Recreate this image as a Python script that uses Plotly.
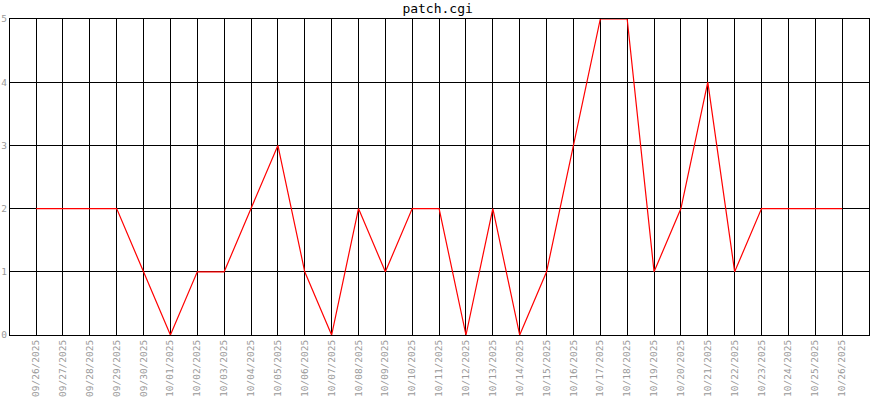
import plotly.graph_objects as go

dates = [
    "09/26/2025", "09/27/2025", "09/28/2025", "09/29/2025", "09/30/2025",
    "10/01/2025", "10/02/2025", "10/03/2025", "10/04/2025", "10/05/2025",
    "10/06/2025", "10/07/2025", "10/08/2025", "10/09/2025", "10/10/2025",
    "10/11/2025", "10/12/2025", "10/13/2025", "10/14/2025", "10/15/2025",
    "10/16/2025", "10/17/2025", "10/18/2025", "10/19/2025", "10/20/2025",
    "10/21/2025", "10/22/2025", "10/23/2025", "10/24/2025", "10/25/2025",
    "10/26/2025",
]
counts = [2, 2, 2, 2, 1, 0, 1, 1, 2, 3, 1, 0, 2, 1, 2, 2, 0, 2, 0, 1,
          3, 5, 5, 1, 2, 4, 1, 2, 2, 2, 2]
y_ticks = [0, 1, 2, 3, 4, 5]

mono = "DejaVu Sans Mono, monospace"
label_grey = "#999999"

fig = go.Figure(go.Scatter(
    x=dates, y=counts, mode="lines",
    line=dict(color="#ff0000", width=1.2),
    hoverinfo="x+y",
))

fig.update_layout(
    width=870, height=400,
    title=dict(text="patch.cgi", x=0.503, xanchor="center", y=0.978, yanchor="middle",
               font=dict(family=mono, size=13, color="#000000")),
    paper_bgcolor="white", plot_bgcolor="white",
    margin=dict(l=10, r=1, t=19, b=65),
    showlegend=False,
    font=dict(family=mono, size=9.5, color=label_grey),
)
fig.update_xaxes(
    type="category", range=[-0.97, 31.0],
    showgrid=True, gridcolor="#000000", gridwidth=1,
    showline=True, linecolor="#000000", linewidth=1, mirror=True,
    tickangle=-90, ticks="", tickfont=dict(family=mono, size=9.5, color=label_grey),
    automargin=False, zeroline=False,
)
fig.update_yaxes(
    range=[0, 5], tickvals=y_ticks,
    showgrid=True, gridcolor="#000000", gridwidth=1,
    showline=True, linecolor="#000000", linewidth=1, mirror=True,
    ticks="", ticklabelstandoff=0, tickfont=dict(family=mono, size=9.5, color=label_grey),
    automargin=False, zeroline=False,
)

# page body has a default margin that shifts the chart, drop it
fig.write_html("out.html", config={"displayModeBar": False},
               post_script="document.body.style.margin='0';")
